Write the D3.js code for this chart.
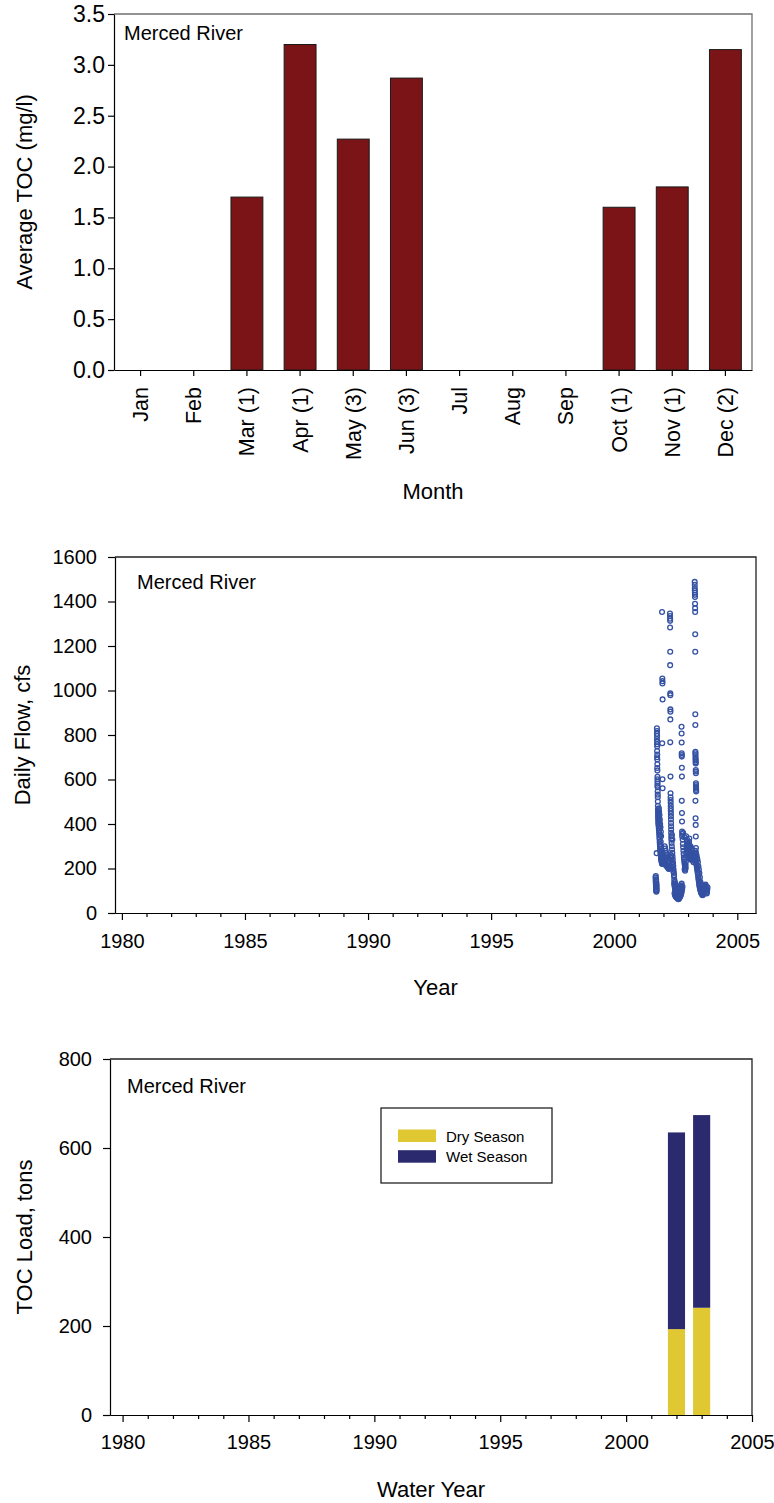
<!DOCTYPE html>
<html>
<head>
<meta charset="utf-8">
<script src="https://cdn.jsdelivr.net/npm/d3@7"></script>
<style>
  body { margin: 0; background: #fff; }
  svg { display: block; font-family: 'Liberation Sans', Arial, sans-serif; }
  .axis text { font-size: 20px; fill: #000; }
  .axis path, .axis line { stroke: #000; stroke-width: 1.2; }
  .axis-title { font-size: 22px; fill: #000; }
  .site { font-size: 20px; fill: #000; }
  .legend text { font-size: 15px; fill: #000; }
</style>
</head>
<body>
<svg id="chart"></svg>
<script>
// Average TOC by month (sample count in label)
const months = ['Jan', 'Feb', 'Mar (1)', 'Apr (1)', 'May (3)', 'Jun (3)', 'Jul', 'Aug', 'Sep', 'Oct (1)', 'Nov (1)', 'Dec (2)'];
const avgToc = [null, null, 1.70, 3.20, 2.27, 2.87, null, null, null, 1.60, 1.80, 3.15];

// Daily flow, [decimal year, cfs]
const dailyFlow = [
  // Oct 2001 base flow
  [2001.680,160],[2001.684,150],[2001.688,141],[2001.692,132],[2001.696,124],[2001.700,116],[2001.704,108],[2001.708,101],
  [2001.712,96],[2001.716,99],[2001.720,106],[2001.724,114],[2001.690,166],[2001.702,152],[2001.714,138],[2001.726,126],
  // Nov-Dec 2001
  [2001.724,269],
  [2001.735,830],[2001.740,818],[2001.737,806],[2001.742,795],[2001.736,782],[2001.744,770],[2001.740,758],[2001.746,748],
  [2001.742,728],[2001.748,712],[2001.744,700],[2001.750,690],[2001.752,668],[2001.748,652],[2001.754,640],[2001.758,612],
  [2001.756,601],[2001.760,590],[2001.762,581],[2001.758,572],[2001.764,565],[2001.766,546],[2001.768,532],[2001.770,520],
  [2001.772,501],[2001.776,482],[2001.778,466],[2001.780,458],[2001.782,450],[2001.784,442],[2001.786,434],[2001.788,427],
  [2001.790,420],[2001.792,412],[2001.794,404],
  [2001.815,470],[2001.825,455],[2001.840,440],[2001.855,420],[2001.865,400],[2001.880,385],[2001.895,365],[2001.905,345],
  [2001.800,398],[2001.806,390],[2001.812,380],[2001.818,372],[2001.824,362],[2001.830,352],[2001.836,340],[2001.842,330],
  [2001.848,318],[2001.854,308],[2001.860,298],[2001.866,290],[2001.872,282],[2001.878,275],[2001.884,268],[2001.890,262],
  [2001.896,255],[2001.902,250],[2001.908,245],[2001.914,240],[2001.920,236],[2001.926,232],[2001.932,228],[2001.938,225],
  [2001.944,222],[2001.950,220],
  [2001.820,430],[2001.835,410],[2001.850,380],[2001.870,350],[2001.890,320],[2001.910,300],[2001.930,280],[2001.945,265],
  [2001.960,250],[2001.975,242],[2001.990,236],[2002.005,230],[2002.020,226],
  // Jan 2002 storms
  [2001.943,1353],[2001.955,1054],[2001.960,1042],[2001.958,1032],[2001.965,960],[2001.950,763],[2001.962,601],[2001.965,561],
  // Feb-Mar 2002
  [2002.040,225],[2002.060,222],[2002.080,218],[2002.100,215],[2002.120,212],[2002.140,210],[2002.160,208],[2002.180,205],
  [2002.200,200],[2002.220,198],[2002.240,200],[2002.250,210],
  [2002.050,300],[2002.070,290],[2002.090,280],[2002.110,270],[2002.130,262],[2002.150,255],[2002.170,250],[2002.190,245],
  [2002.210,240],[2002.230,235],
  // Apr-May 2002 pulse
  [2002.265,1346],[2002.268,1335],[2002.270,1323],[2002.272,1313],[2002.270,1283],[2002.275,1174],[2002.272,1114],[2002.278,987],
  [2002.280,979],[2002.282,915],[2002.284,905],[2002.280,870],[2002.276,767],[2002.286,613],[2002.288,538],[2002.290,520],
  [2002.292,508],[2002.294,495],[2002.296,482],[2002.298,470],[2002.300,458],[2002.302,446],[2002.304,434],[2002.306,420],
  [2002.308,404],[2002.310,390],[2002.312,375],[2002.314,360],[2002.316,344],
  [2002.320,330],[2002.330,315],[2002.340,300],[2002.350,285],[2002.360,270],[2002.370,255],[2002.380,240],[2002.390,225],
  [2002.400,210],[2002.410,195],[2002.420,180],[2002.430,165],[2002.440,150],[2002.450,138],[2002.460,128],[2002.470,120],
  [2002.300,260],[2002.310,250],[2002.330,240],[2002.350,228],[2002.370,215],[2002.390,200],[2002.410,185],[2002.430,170],
  [2002.345,350],[2002.360,330],
  // summer 2002 low flow
  [2002.440,132],[2002.450,124],[2002.460,116],[2002.470,110],[2002.480,104],[2002.490,98],[2002.500,94],[2002.510,90],
  [2002.520,86],[2002.530,82],[2002.540,78],[2002.550,75],[2002.560,72],[2002.570,70],[2002.580,68],[2002.590,66],
  [2002.600,65],[2002.610,67],[2002.620,70],[2002.630,74],[2002.640,78],[2002.650,82],[2002.660,86],[2002.670,90],
  [2002.680,95],[2002.690,100],[2002.700,106],[2002.710,112],[2002.720,118],[2002.730,124],
  [2002.450,88],[2002.470,80],[2002.490,76],[2002.510,72],[2002.530,70],[2002.550,68],[2002.570,66],[2002.590,64],
  [2002.610,62],[2002.630,64],[2002.650,68],[2002.670,72],[2002.690,76],[2002.710,82],[2002.730,90],[2002.745,98],
  [2002.760,108],[2002.775,118],
  [2002.460,140],[2002.500,128],[2002.540,112],[2002.580,102],[2002.620,96],[2002.660,104],[2002.700,120],[2002.740,132],
  // Oct 2002 pulse
  [2002.735,837],[2002.738,807],[2002.740,766],[2002.742,718],[2002.744,710],[2002.746,703],[2002.748,653],[2002.750,613],
  [2002.745,504],[2002.752,449],[2002.755,411],[2002.758,366],[2002.760,355],[2002.762,344],
  // winter 2002-03
  [2002.780,330],[2002.790,310],[2002.800,295],[2002.810,280],[2002.820,265],[2002.830,250],[2002.840,240],[2002.850,230],
  [2002.860,222],[2002.870,215],[2002.880,210],[2002.890,205],[2002.900,215],[2002.910,230],[2002.920,250],[2002.930,270],
  [2002.940,290],[2002.950,300],[2002.960,310],[2002.970,320],[2002.980,300],[2002.990,285],[2003.000,270],[2003.010,260],
  [2003.020,290],[2003.030,310],[2003.040,320],[2003.050,300],[2003.060,280],[2003.070,265],[2003.080,255],[2003.090,245],
  [2003.100,240],[2003.110,250],[2003.120,265],[2003.130,280],[2003.140,270],[2003.150,255],[2003.160,245],[2003.170,240],
  [2003.180,250],[2003.190,260],[2003.200,245],[2003.210,235],[2003.220,228],[2003.230,240],[2003.240,255],[2003.250,270],
  [2002.800,360],[2002.850,340],[2002.920,345],[2002.960,330],[2003.000,305],[2003.050,335],[2003.100,300],[2003.150,290],
  [2002.860,195],[2002.880,190],[2002.900,200],
  // Apr-May 2003 pulse
  [2003.270,1488],[2003.272,1475],[2003.274,1460],[2003.276,1450],[2003.278,1440],[2003.280,1430],[2003.282,1420],[2003.284,1390],
  [2003.286,1370],[2003.288,1353],[2003.290,1253],[2003.292,1174],[2003.294,893],[2003.296,845],
  [2003.298,725],[2003.300,718],[2003.302,710],[2003.304,700],[2003.306,692],[2003.308,685],[2003.310,678],[2003.312,672],
  [2003.314,643],[2003.316,636],[2003.318,628],[2003.320,583],[2003.322,575],[2003.324,568],[2003.326,560],[2003.328,553],
  [2003.330,546],[2003.300,504],[2003.305,426],[2003.310,396],[2003.315,344],[2003.320,292],
  // summer 2003
  [2003.260,270],[2003.270,260],[2003.280,250],[2003.290,245],[2003.300,240],[2003.310,235],[2003.320,230],[2003.330,225],
  [2003.340,220],[2003.350,212],[2003.360,205],[2003.370,198],[2003.380,190],[2003.390,182],[2003.400,175],[2003.410,165],
  [2003.420,155],[2003.430,148],[2003.440,140],[2003.450,132],[2003.460,125],[2003.470,118],[2003.480,112],[2003.490,108],
  [2003.500,104],[2003.510,100],[2003.520,96],[2003.530,92],[2003.540,90],[2003.550,88],[2003.560,86],[2003.570,84],
  [2003.580,82],[2003.590,80],[2003.600,82],[2003.610,85],[2003.620,88],[2003.630,92],[2003.640,96],[2003.650,100],
  [2003.660,104],[2003.670,108],[2003.680,112],[2003.690,118],[2003.700,124],[2003.710,128],[2003.720,120],[2003.730,110],
  [2003.740,100],[2003.750,92],[2003.760,88],[2003.770,95],[2003.780,105],[2003.790,115],
  [2003.300,280],[2003.320,270],[2003.340,262],[2003.360,250],[2003.380,240],[2003.400,228],[2003.420,210],[2003.440,195],
  [2003.460,180],[2003.480,160],[2003.500,140],[2003.520,130]
];

// TOC load by water year
const waterYears = [2002, 2003];
const drySeason = [193, 241];
const wetSeason = [442, 433];
const seasonNames = ['Dry Season', 'Wet Season'];
const seasonColors = ['#dfc832', '#2c2a6e'];

const svg = d3.select('#chart')
    .attr('width', 774)
    .attr('height', 1503);

// Top and right edges of a plot box
function frame(g, m, color) {
  g.append('path')
      .attr('d', `M${m.left},${m.top}H${m.right}V${m.bottom}`)
      .attr('fill', 'none')
      .attr('stroke', color)
      .attr('stroke-width', 1.3);
}

function yTitle(g, m, x, label) {
  g.append('text')
      .attr('class', 'axis-title')
      .attr('transform', 'rotate(-90)')
      .attr('x', -(m.top + m.bottom) / 2)
      .attr('y', x)
      .style('text-anchor', 'middle')
      .text(label);
}

function xTitle(g, m, y, label) {
  g.append('text')
      .attr('class', 'axis-title')
      .attr('x', (m.left + m.right) / 2)
      .attr('y', y)
      .style('text-anchor', 'middle')
      .text(label);
}

// Year axis with minor ticks every year and labels every 5
function yearAxis(g, x, m, padding) {
  const years = d3.range(1980, 2006);
  g.append('g')
      .attr('class', 'axis')
      .attr('transform', `translate(0,${m.bottom})`)
      .call(d3.axisBottom(x).tickValues(years.filter(d => d % 5 != 0)).tickSize(4).tickSizeOuter(0).tickFormat(''));
  g.append('g')
      .attr('class', 'axis')
      .attr('transform', `translate(0,${m.bottom})`)
      .call(d3.axisBottom(x).tickValues(years.filter(d => d % 5 == 0)).tickSize(7).tickSizeOuter(0)
          .tickPadding(padding).tickFormat(d3.format('d')));
}

// Chart 1: monthly average TOC
{
  const m = {left: 114, right: 752, top: 14, bottom: 370};
  const g = svg.append('g');

  const x = d3.scaleBand()
      .domain(months)
      .range([m.left, m.right])
      .paddingInner(0.4)
      .paddingOuter(0.2);
  const y = d3.scaleLinear()
      .domain([0, 3.5])
      .range([m.bottom, m.top]);

  frame(g, m, '#707070');

  const rows = months.map((d, i) => ({month: d, value: avgToc[i]})).filter(d => d.value != null);
  g.selectAll('.bar')
      .data(rows)
    .join('rect')
      .attr('class', 'bar')
      .attr('x', d => x(d.month))
      .attr('width', x.bandwidth())
      .attr('y', d => y(d.value))
      .attr('height', d => y(0) - y(d.value))
      .attr('fill', '#7a1416')
      .attr('stroke', '#1a1a1a')
      .attr('stroke-width', 1);

  g.append('g')
      .attr('class', 'axis')
      .attr('transform', `translate(0,${m.bottom})`)
      .call(d3.axisBottom(x).tickSize(6).tickSizeOuter(0))
      .call(a => a.selectAll('text')
          .style('font-size', '21.5px')
          .attr('y', 0)
          .attr('x', -17)
          .attr('dy', '.35em')
          .attr('transform', 'rotate(-90)')
          .style('text-anchor', 'end'));

  g.append('g')
      .attr('class', 'axis')
      .attr('transform', `translate(${m.left},0)`)
      .call(d3.axisLeft(y).ticks(7).tickSize(6).tickSizeOuter(0).tickPadding(3).tickFormat(d3.format('.1f')))
      .call(a => a.selectAll('text').style('font-size', '23px'));

  g.append('text').attr('class', 'site').attr('x', 124).attr('y', 40).text('Merced River');
  yTitle(g, m, 32, 'Average TOC (mg/l)');
  xTitle(g, m, 499, 'Month');
}

// Chart 2: daily flow
{
  const m = {left: 115, right: 756, top: 557, bottom: 913};
  const g = svg.append('g');

  const x = d3.scaleLinear()
      .domain([1979.72, 2005.76])
      .range([m.left, m.right]);
  const y = d3.scaleLinear()
      .domain([0, 1600])
      .range([m.bottom, m.top]);

  frame(g, m, '#222');

  g.selectAll('.point')
      .data(dailyFlow)
    .join('circle')
      .attr('class', 'point')
      .attr('cx', d => x(d[0]))
      .attr('cy', d => y(d[1]))
      .attr('r', 2.4)
      .attr('fill', 'none')
      .attr('stroke', '#3451a3')
      .attr('stroke-width', 1.3);

  yearAxis(g, x, m, 14);

  g.append('g')
      .attr('class', 'axis')
      .attr('transform', `translate(${m.left},0)`)
      .call(d3.axisLeft(y).ticks(8).tickSize(7).tickSizeOuter(0).tickPadding(11).tickFormat(d3.format('d')));

  g.append('text').attr('class', 'site').attr('x', 137).attr('y', 589).text('Merced River');
  yTitle(g, m, 30, 'Daily Flow, cfs');
  xTitle(g, m, 995, 'Year');
}

// Chart 3: TOC load by season
{
  const m = {left: 110, right: 752, top: 1059, bottom: 1415};
  const g = svg.append('g');

  const x = d3.scaleLinear()
      .domain([1979.5, 2005])
      .range([m.left, m.right]);
  const y = d3.scaleLinear()
      .domain([0, 800])
      .range([m.bottom, m.top]);

  frame(g, m, '#222');

  const table = waterYears.map((d, i) => ({year: d, dry: drySeason[i], wet: wetSeason[i]}));
  const stack = d3.stack().keys(['dry', 'wet'])(table);
  const half = 0.34;

  g.selectAll('.layer')
      .data(stack)
    .join('g')
      .attr('class', 'layer')
      .attr('fill', (d, i) => seasonColors[i])
    .selectAll('rect')
      .data(d => d)
    .join('rect')
      .attr('x', d => x(d.data.year - half))
      .attr('width', x(2000 + half) - x(2000 - half))
      .attr('y', d => y(d[1]))
      .attr('height', d => y(d[0]) - y(d[1]));

  yearAxis(g, x, m, 13);

  g.append('g')
      .attr('class', 'axis')
      .attr('transform', `translate(${m.left},0)`)
      .call(d3.axisLeft(y).ticks(4).tickSize(7).tickSizeOuter(0).tickPadding(11));

  // Legend
  const legend = g.append('g').attr('class', 'legend');
  legend.append('rect')
      .attr('x', 381).attr('y', 1108)
      .attr('width', 171).attr('height', 75)
      .attr('fill', '#fff')
      .attr('stroke', '#111')
      .attr('stroke-width', 1.2);
  seasonNames.forEach((name, i) => {
    legend.append('rect')
        .attr('x', 398).attr('y', 1129.5 + i * 20.7)
        .attr('width', 38).attr('height', 12.5)
        .attr('fill', seasonColors[i]);
    legend.append('text')
        .attr('x', 446).attr('y', 1141.5 + i * 20.7)
        .text(name);
  });

  g.append('text').attr('class', 'site').attr('x', 127).attr('y', 1093).text('Merced River');
  yTitle(g, m, 32, 'TOC Load, tons');
  xTitle(g, m, 1497, 'Water Year');
}
</script>
</body>
</html>
